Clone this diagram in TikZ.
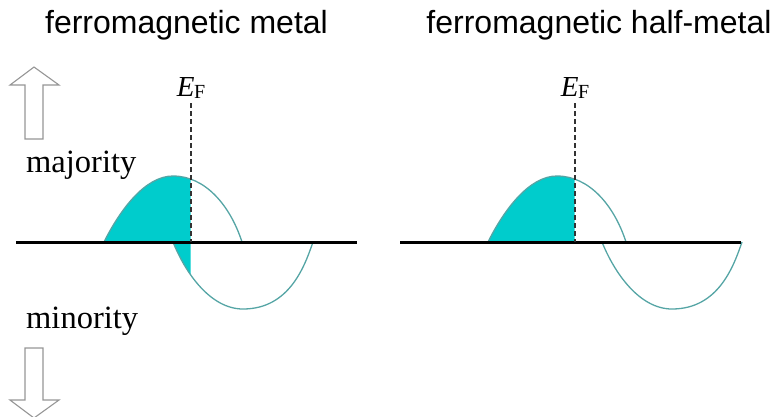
\documentclass[tikz,border=0pt]{standalone}
\usepackage{fontspec}
\setmainfont{Liberation Serif}
\newfontfamily\titlefont{Liberation Sans}
\definecolor{dosfill}{RGB}{0,204,204}
\definecolor{dosline}{RGB}{85,165,165}
\definecolor{arrowgray}{RGB}{150,150,150}
\definecolor{efgray}{RGB}{50,50,50}
\begin{document}
\begin{tikzpicture}[x=1pt,y=-1pt,
  majpath/.style={insert path={(104,242) .. controls (120,210) and (145,176) .. (173,176) .. controls (205,176) and (230,205) .. (242,242)}},
  minpath/.style={insert path={(173,242) .. controls (185,272) and (210,309) .. (243,309) .. controls (290,309) and (305,265) .. (313,242)}},
  dosfillstyle/.style={fill=dosfill},
  doscurve/.style={draw=dosline, line width=1.3pt},
  baseaxis/.style={draw=black, line width=2.6pt},
  efline/.style={draw=efgray, line width=1.6pt, dash pattern=on 5pt off 3pt},
  spinarrow/.style={draw=arrowgray, line width=1.1pt, fill=white, line join=miter},
  titletext/.style={font=\titlefont\fontsize{32}{32}\selectfont, inner sep=0pt, anchor=base},
  spinlabel/.style={font=\fontsize{32.5}{32.5}\selectfont, inner sep=0pt, anchor=base west},
  eflabel/.style={inner sep=0pt, anchor=base}
]
\useasboundingbox (0,0) rectangle (781,416);
\clip (0,0) rectangle (781,416);

% titles
\node[titletext] (t1) at (186.5,33) {ferromagnetic metal};
\node[titletext] (t2) at (599,33) {ferromagnetic half-metal};

% spin arrows and labels
\path[spinarrow] (34,67) -- (59,85) -- (43,85) -- (43,139) -- (25,139) -- (25,85) -- (10,85) -- cycle;
\path[spinarrow] (25,348) -- (43,348) -- (43,400) -- (59,400) -- (34,418) -- (10,400) -- (25,400) -- cycle;
\node[spinlabel] (maj) at (26,172) {majority};
\node[spinlabel] (mino) at (26,328) {minority};

% left panel: ferromagnetic metal
\begin{scope}
  \clip (0,0) rectangle (190.7,416);
  \fill[dosfillstyle, majpath] -- cycle;
  \fill[dosfillstyle, minpath] -- cycle;
\end{scope}
\path[doscurve, majpath];
\path[doscurve, minpath];
\path[baseaxis] (16,242.5) -- (357,242.5);
\coordinate (efL) at (190.7,103);
\coordinate (efLb) at (190.7,242);
\path[efline] (efL) -- (efLb);
\node[eflabel] (EFL) at (191,96) {\fontsize{29}{29}\selectfont\itshape E\kern-0.5pt\raisebox{-2.5pt}{\fontsize{20}{20}\selectfont\upshape F}};

% right panel: half-metal
\begin{scope}[xshift=384pt]
  \begin{scope}
    \clip (0,0) rectangle (190.7,416);
    \fill[dosfillstyle, majpath] -- cycle;
  \end{scope}
  \path[doscurve, majpath];
\end{scope}
\begin{scope}[xshift=429pt]
  \path[doscurve, minpath];
\end{scope}
\path[baseaxis] (400,242.5) -- (741,242.5);
\coordinate (efR) at (574.7,103);
\coordinate (efRb) at (574.7,242);
\path[efline] (efR) -- (efRb);
\node[eflabel] (EFR) at (575,96) {\fontsize{29}{29}\selectfont\itshape E\kern-0.5pt\raisebox{-2.5pt}{\fontsize{20}{20}\selectfont\upshape F}};
\end{tikzpicture}
\end{document}
